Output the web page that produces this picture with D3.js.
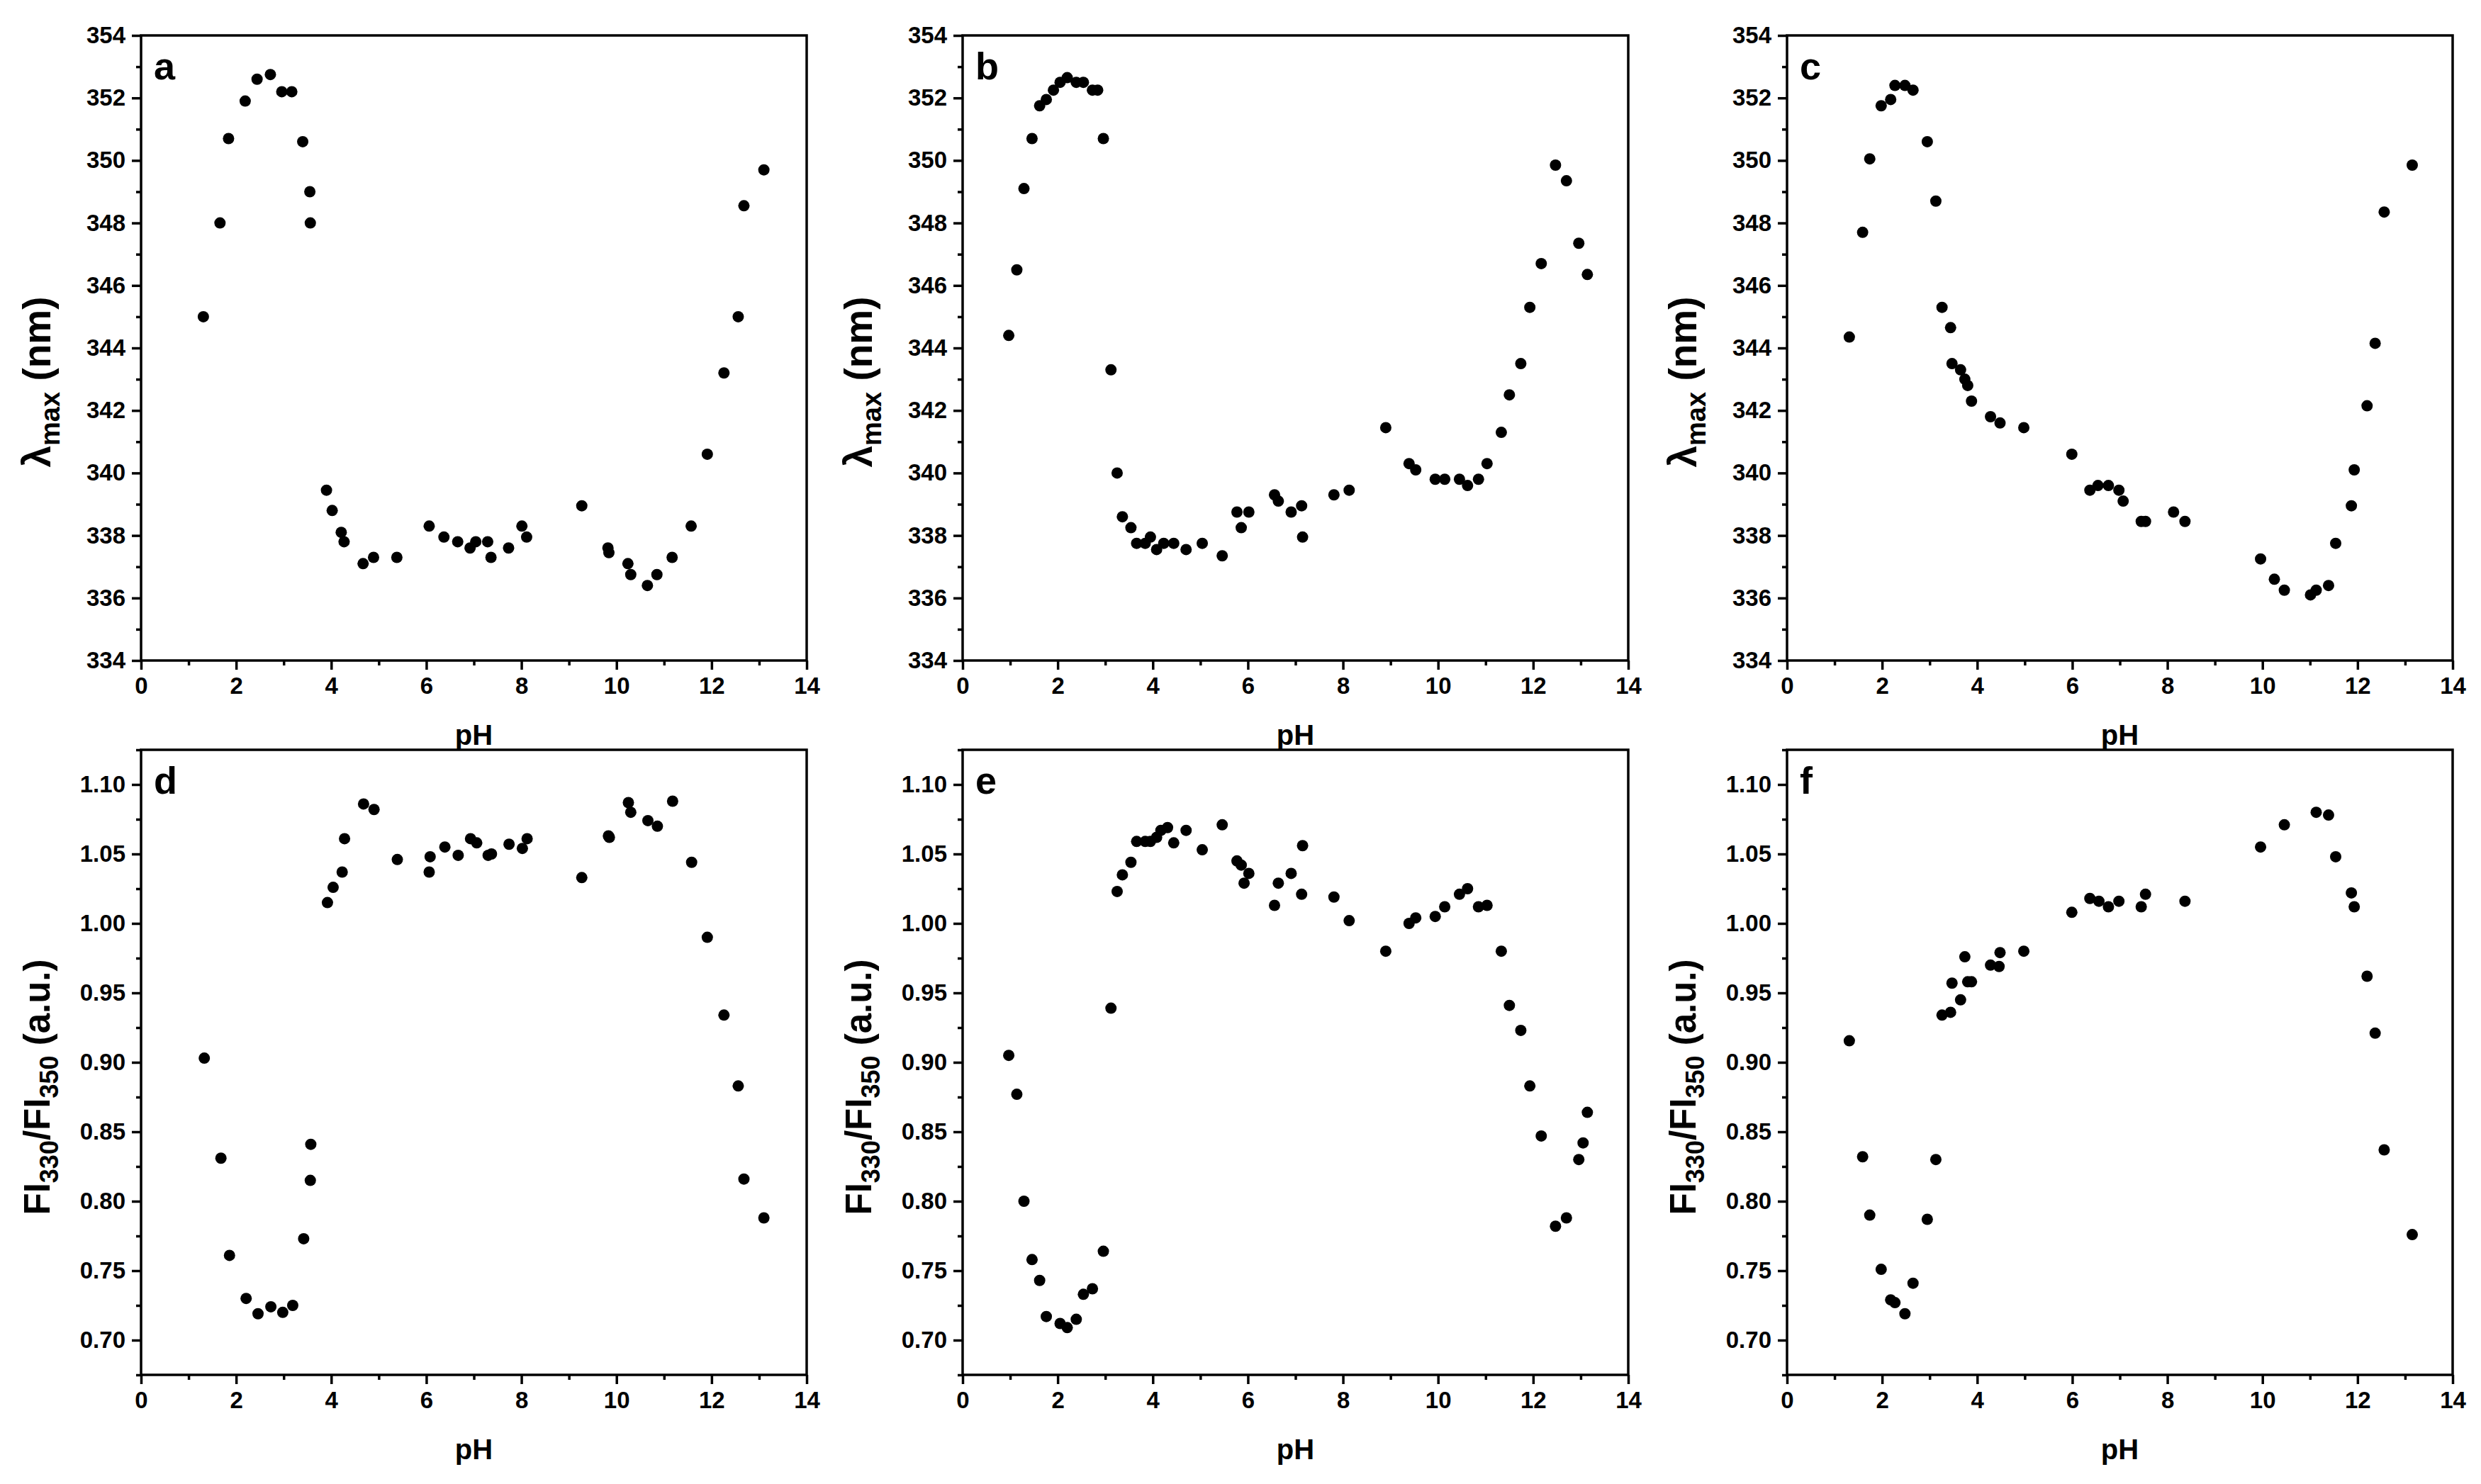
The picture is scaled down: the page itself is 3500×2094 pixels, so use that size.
<!DOCTYPE html>
<html>
<head>
<meta charset="utf-8">
<script src="https://cdn.jsdelivr.net/npm/d3@7"></script>
<style>
  body { margin: 0; background: #fff; }
  svg text { font-family: "Liberation Sans", Arial, sans-serif; font-weight: bold; fill: #000; }
</style>
</head>
<body>
<div id="chart"></div>
<script>
// canvas + panel geometry
const WIDTH = 3500;
const HEIGHT = 2094;
const PANEL_W = 939;
const PANEL_H = 882;
const LEFTS = [199, 1358, 2521];
const TOPS = [50, 1058];
const TICK_MAJOR = 13;
const TICK_MINOR = 7;
const LINE_W = 3.5;

// tick labels
const phTicks = [0, 2, 4, 6, 8, 10, 12, 14];
const phMinor = [1, 3, 5, 7, 9, 11, 13];
const lamTicks = [334, 336, 338, 340, 342, 344, 346, 348, 350, 352, 354];
const lamMinor = [335, 337, 339, 341, 343, 345, 347, 349, 351, 353];
const ratioTicks = [0.70, 0.75, 0.80, 0.85, 0.90, 0.95, 1.00, 1.05, 1.10];
const ratioMinor = [0.675, 0.725, 0.775, 0.825, 0.875, 0.925, 0.975, 1.025, 1.075, 1.125];

// panel a
const phA = [1.31,1.66,1.84,2.19,2.44,2.72,2.96,3.17,3.40,3.55,3.56,3.90,4.02,4.21,4.27,4.67,4.89,5.38,6.06,6.37,6.66,6.92,7.04,7.29,7.36,7.73,8.01,8.11,9.27,9.82,9.84,10.24,10.30,10.65,10.85,11.17,11.57,11.91,12.26,12.56,12.68,13.10];
const lamA = [345.0,348.0,350.7,351.9,352.6,352.75,352.2,352.2,350.6,349.0,348.0,339.45,338.8,338.1,337.8,337.1,337.3,337.3,338.3,337.95,337.8,337.6,337.8,337.8,337.3,337.6,338.3,337.95,338.95,337.6,337.45,337.1,336.75,336.4,336.75,337.3,338.3,340.6,343.2,345.0,348.55,349.7];

// panel b
const phB = [0.97,1.14,1.29,1.46,1.62,1.76,1.91,2.05,2.20,2.39,2.54,2.73,2.84,2.96,3.12,3.25,3.36,3.54,3.66,3.84,3.95,4.08,4.23,4.44,4.70,5.04,5.46,5.77,5.86,6.02,6.56,6.64,6.91,7.13,7.15,7.81,8.13,8.90,9.39,9.53,9.94,10.14,10.45,10.62,10.85,11.03,11.33,11.50,11.74,11.93,12.17,12.47,12.70,12.96,13.14];
const lamB = [344.4,346.5,349.1,350.7,351.75,351.95,352.25,352.5,352.65,352.5,352.5,352.25,352.25,350.7,343.3,340.0,338.6,338.25,337.75,337.75,337.95,337.55,337.75,337.75,337.55,337.75,337.35,338.75,338.25,338.75,339.3,339.1,338.75,338.95,337.95,339.3,339.45,341.45,340.3,340.1,339.8,339.8,339.8,339.6,339.8,340.3,341.3,342.5,343.5,345.3,346.7,349.85,349.35,347.35,346.35];

// panel c
const phC = [1.31,1.59,1.74,1.98,2.18,2.27,2.48,2.65,2.95,3.13,3.26,3.44,3.47,3.65,3.74,3.80,3.88,4.28,4.48,4.98,5.99,6.37,6.54,6.76,6.98,7.07,7.45,7.54,8.13,8.37,9.96,10.25,10.46,11.01,11.13,11.39,11.54,11.87,11.93,12.20,12.37,12.56,13.15];
const lamC = [344.35,347.7,350.05,351.75,351.95,352.4,352.4,352.25,350.6,348.7,345.3,344.65,343.5,343.3,343.0,342.8,342.3,341.8,341.6,341.45,340.6,339.45,339.6,339.6,339.45,339.1,338.45,338.45,338.75,338.45,337.25,336.6,336.25,336.1,336.25,336.4,337.75,338.95,340.1,342.15,344.15,348.35,349.85];

// panel d
const phD = [1.33,1.68,1.86,2.21,2.46,2.73,2.98,3.19,3.42,3.57,3.56,3.92,4.04,4.23,4.28,4.68,4.90,5.39,6.08,6.06,6.39,6.67,6.93,7.06,7.30,7.37,7.74,8.02,8.12,9.27,9.83,9.85,10.25,10.30,10.66,10.86,11.18,11.58,11.91,12.26,12.56,12.68,13.10];
const ratioD = [0.903,0.831,0.761,0.730,0.719,0.724,0.720,0.725,0.773,0.841,0.815,1.015,1.026,1.037,1.061,1.086,1.082,1.046,1.048,1.037,1.055,1.049,1.061,1.058,1.049,1.050,1.057,1.054,1.061,1.033,1.063,1.062,1.087,1.080,1.074,1.070,1.088,1.044,0.990,0.934,0.883,0.816,0.788];

// panel e
const phE = [0.97,1.14,1.29,1.46,1.62,1.76,2.05,2.20,2.39,2.54,2.73,2.96,3.12,3.25,3.36,3.54,3.66,3.84,3.95,4.08,4.17,4.31,4.44,4.70,5.04,5.46,5.77,5.86,5.92,6.02,6.56,6.64,6.91,7.13,7.15,7.81,8.13,8.90,9.39,9.53,9.94,10.14,10.45,10.62,10.85,11.03,11.33,11.50,11.74,11.93,12.17,12.47,12.70,12.96,13.05,13.14];
const ratioE = [0.905,0.877,0.800,0.758,0.743,0.717,0.712,0.709,0.715,0.733,0.737,0.764,0.939,1.023,1.035,1.044,1.059,1.059,1.059,1.062,1.067,1.069,1.058,1.067,1.053,1.071,1.045,1.042,1.029,1.036,1.013,1.029,1.036,1.021,1.056,1.019,1.002,0.980,1.000,1.004,1.005,1.012,1.021,1.025,1.012,1.013,0.980,0.941,0.923,0.883,0.847,0.782,0.788,0.830,0.842,0.864];

// panel f
const phF = [1.31,1.59,1.74,1.98,2.18,2.27,2.48,2.65,2.95,3.13,3.26,3.44,3.47,3.65,3.74,3.80,3.88,4.28,4.46,4.48,4.98,5.99,6.37,6.56,6.76,6.98,7.45,7.54,8.37,9.96,10.46,11.13,11.39,11.54,11.87,11.93,12.20,12.37,12.56,13.15];
const ratioF = [0.9155,0.832,0.790,0.751,0.729,0.727,0.719,0.741,0.787,0.830,0.934,0.936,0.957,0.945,0.976,0.958,0.958,0.970,0.969,0.979,0.980,1.008,1.018,1.016,1.012,1.016,1.012,1.021,1.016,1.055,1.071,1.080,1.078,1.048,1.022,1.012,0.962,0.921,0.837,0.776];

const svg = d3.select("#chart").append("svg")
  .attr("width", WIDTH)
  .attr("height", HEIGHT)
  .style("background", "#fff");

// row 0 = lambda max, row 1 = FI ratio
const panels = [
  { letter: "a", row: 0, col: 0, ph: phA, val: lamA },
  { letter: "b", row: 0, col: 1, ph: phB, val: lamB },
  { letter: "c", row: 0, col: 2, ph: phC, val: lamC },
  { letter: "d", row: 1, col: 0, ph: phD, val: ratioD },
  { letter: "e", row: 1, col: 1, ph: phE, val: ratioE },
  { letter: "f", row: 1, col: 2, ph: phF, val: ratioF }
];

panels.forEach(drawPanel);

function styleAxis(g) {
  g.select(".domain").remove();
  g.selectAll(".tick line").attr("stroke", "#000").attr("stroke-width", LINE_W);
  g.selectAll(".tick text")
    .attr("font-family", null)
    .style("font-size", "33px")
    .attr("fill", "#000");
}

function drawPanel(p) {
  const left = LEFTS[p.col];
  const top = TOPS[p.row];
  const g = svg.append("g").attr("transform", `translate(${left},${top})`);

  const x = d3.scaleLinear().domain([0, 14]).range([0, PANEL_W]);
  const y = p.row === 0
    ? d3.scaleLinear().domain([334, 354]).range([PANEL_H, 0])
    : d3.scaleLinear().domain([0.675, 1.125]).range([PANEL_H, 0]);

  const yTicks = p.row === 0 ? lamTicks : ratioTicks;
  const yMinor = p.row === 0 ? lamMinor : ratioMinor;
  const yFmt = p.row === 0 ? d3.format("d") : d3.format(".2f");

  // x axis
  g.append("g").attr("transform", `translate(0,${PANEL_H})`)
    .call(d3.axisBottom(x).tickValues(phTicks).tickSize(TICK_MAJOR).tickPadding(11).tickFormat(d3.format("d")))
    .call(styleAxis);
  g.append("g").attr("transform", `translate(0,${PANEL_H})`)
    .call(d3.axisBottom(x).tickValues(phMinor).tickSize(TICK_MINOR).tickFormat(""))
    .call(styleAxis);

  // y axis
  g.append("g")
    .call(d3.axisLeft(y).tickValues(yTicks).tickSize(TICK_MAJOR).tickPadding(9).tickFormat(yFmt))
    .call(styleAxis);
  g.append("g")
    .call(d3.axisLeft(y).tickValues(yMinor).tickSize(TICK_MINOR).tickFormat(""))
    .call(styleAxis);

  // frame
  g.append("rect")
    .attr("width", PANEL_W).attr("height", PANEL_H)
    .attr("fill", "none").attr("stroke", "#000").attr("stroke-width", LINE_W);

  // points
  const pts = p.ph.map((d, i) => ({ ph: d, v: p.val[i] }));
  g.selectAll("circle.pt").data(pts).join("circle")
    .attr("class", "pt")
    .attr("cx", d => x(d.ph))
    .attr("cy", d => y(d.v))
    .attr("r", 8)
    .attr("fill", "#000");

  // panel letter
  g.append("text")
    .attr("x", 18).attr("y", 62)
    .style("font-size", "54px")
    .text(p.letter);

  // x title
  g.append("text")
    .attr("x", PANEL_W / 2).attr("y", PANEL_H + 119)
    .attr("text-anchor", "middle")
    .style("font-size", "40px")
    .text("pH");

  // y title
  const shift = p.row === 0 ? 48 : 35;
  const big = p.row === 0 ? 55 : 51;
  const small = p.row === 0 ? 38 : 36;
  const yt = g.append("text")
    .attr("transform", `translate(-147,${PANEL_H / 2 + shift}) rotate(-90)`)
    .attr("text-anchor", "middle")
    .attr("dy", "0.35em")
    .style("font-size", big + "px");
  if (p.row === 0) {
    yt.append("tspan").text("\u03bb");
    yt.append("tspan").attr("dy", 13).style("font-size", small + "px").text("max");
    yt.append("tspan").attr("dy", -13).text(" (nm)");
  } else {
    yt.append("tspan").text("FI");
    yt.append("tspan").attr("dy", 12).style("font-size", small + "px").text("330");
    yt.append("tspan").attr("dy", -12).text("/FI");
    yt.append("tspan").attr("dy", 12).style("font-size", small + "px").text("350");
    yt.append("tspan").attr("dy", -12).text(" (a.u.)");
  }
}
</script>
</body>
</html>
